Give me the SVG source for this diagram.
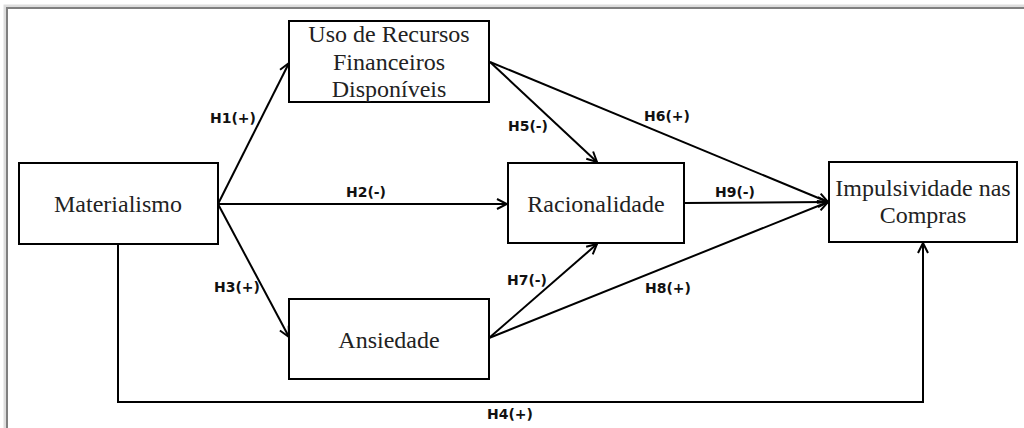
<svg xmlns="http://www.w3.org/2000/svg" width="1024" height="428" viewBox="0 0 1024 428">
<defs>
<style>
.node rect{fill:#fff;stroke:#000;stroke-width:2}
.node text{font-family:"Liberation Serif","Times New Roman",serif;font-size:24px;fill:#222;text-anchor:middle}
.edge{fill:none;stroke:#000;stroke-width:2}
.lbl{font-family:"DejaVu Sans",sans-serif;font-weight:bold;font-size:14px;fill:#111;text-anchor:middle}
</style>
<marker id="arr" viewBox="0 0 12 12" refX="11" refY="6" markerWidth="12" markerHeight="12" markerUnits="userSpaceOnUse" orient="auto">
<path d="M1,1 L11,6 L1,11" fill="none" stroke="#000" stroke-width="2"/>
</marker>
</defs>
<rect x="0" y="0" width="1024" height="428" fill="#fff"/>
<g id="frame">
<rect x="5" y="6" width="1030" height="440" fill="none" stroke="#ddd" stroke-width="3"/>
<rect x="7" y="8" width="1030" height="440" fill="none" stroke="#808080" stroke-width="2"/>
</g>
<g id="connectors">
<path class="edge" marker-end="url(#arr)" d="M218,204 L289,63"/>
<path class="edge" marker-end="url(#arr)" d="M218,204 L507,204"/>
<path class="edge" marker-end="url(#arr)" d="M218,204 L289,337"/>
<path class="edge" marker-end="url(#arr)" d="M490,62 L597,162"/>
<path class="edge" marker-end="url(#arr)" d="M490,62 L828,202"/>
<path class="edge" marker-end="url(#arr)" d="M684,203 L828,202"/>
<path class="edge" marker-end="url(#arr)" d="M489,338 L597,244"/>
<path class="edge" marker-end="url(#arr)" d="M489,338 L828,202"/>
<path class="edge" marker-end="url(#arr)" d="M118,244 L118,402 L923,402 L923,243"/>
<text class="lbl" x="233" y="123">H1(+)</text>
<text class="lbl" x="366" y="197">H2(-)</text>
<text class="lbl" x="237" y="292">H3(+)</text>
<text class="lbl" x="510" y="419">H4(+)</text>
<text class="lbl" x="528" y="131">H5(-)</text>
<text class="lbl" x="667" y="121">H6(+)</text>
<text class="lbl" x="527" y="285">H7(-)</text>
<text class="lbl" x="668" y="293">H8(+)</text>
<text class="lbl" x="735" y="197">H9(-)</text>
</g>
<g id="materialismo" class="node">
<rect x="19" y="163" width="199" height="81"/>
<text x="118" y="212">Materialismo</text>
</g>
<g id="uso" class="node">
<rect x="289" y="21" width="200" height="81"/>
<text x="389" y="42">Uso de Recursos</text>
<text x="389" y="70">Financeiros</text>
<text x="389" y="97">Disponíveis</text>
</g>
<g id="racionalidade" class="node">
<rect x="508" y="163" width="176" height="80"/>
<text x="596" y="212">Racionalidade</text>
</g>
<g id="ansiedade" class="node">
<rect x="289" y="299" width="200" height="80"/>
<text x="389" y="348">Ansiedade</text>
</g>
<g id="impulsividade" class="node">
<rect x="829" y="162" width="188" height="80"/>
<text x="923" y="196">Impulsividade nas</text>
<text x="923" y="223">Compras</text>
</g>
</svg>
